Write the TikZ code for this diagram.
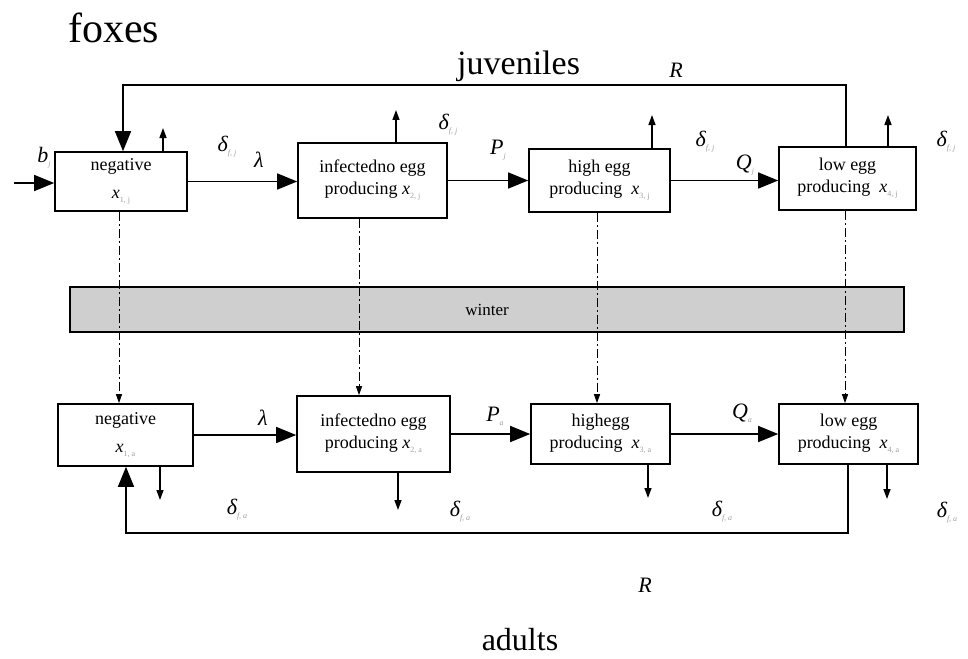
\documentclass[tikz,border=0pt]{standalone}
\usepackage{fontspec}
\setmainfont{Liberation Serif}
\usetikzlibrary{arrows.meta}
\definecolor{subgray}{gray}{0.62}
\definecolor{wintergray}{gray}{0.81}
\newcommand{\sbt}[1]{\raisebox{-4pt}{\color{subgray}\fontsize{8}{8}\selectfont #1}}
\newcommand{\dlab}[1]{\textit{δ}\sbt{f, #1}}
\begin{document}
\begin{tikzpicture}[x=1pt,y=-1pt,
  box/.style={draw, line width=1.6pt, inner sep=0pt, align=center, font=\fontsize{18}{22}\selectfont},
  flowarrow/.style={line width=1.4pt, -{Triangle[length=20pt,width=16pt]}},
  deatharrow/.style={line width=1.4pt, -{Triangle[length=10pt,width=7pt]}},
  ddarrow/.style={line width=1pt, dash pattern=on 9pt off 3pt on 2pt off 3pt, -{Triangle[length=9pt,width=6pt]}},
  lab/.style={font=\fontsize{22}{22}\selectfont\itshape, inner sep=0pt},
  title/.style={inner sep=0pt}]
\useasboundingbox (0,0) rectangle (968,658);

% titles
\node[title, anchor=base west, font=\fontsize{42}{42}\selectfont] (foxes) at (68,43) {foxes};
\node[title, anchor=base west, font=\fontsize{34}{34}\selectfont] (juv) at (457,75) {juveniles};
\node[title, anchor=base, font=\fontsize{32}{32}\selectfont] (adults) at (520,650) {adults};

% juvenile boxes
\node[box, minimum width=132pt, minimum height=59pt] (tj1) at (121,181.5) {negative\\[6pt]\textit{x}\sbt{1, j}};
\node[box, minimum width=149pt, minimum height=75pt] (tj2) at (372.5,180.5) {infectedno egg\\producing \textit{x}\sbt{2, j}};
\node[box, minimum width=141pt, minimum height=63pt] (tj3) at (599.5,180.5) {high egg\\producing \ \textit{x}\sbt{3, j}};
\node[box, minimum width=137pt, minimum height=63pt] (tj4) at (847.5,178.5) {low egg\\producing \ \textit{x}\sbt{4, j}};

% adult boxes
\node[box, minimum width=135pt, minimum height=62pt] (ta1) at (125.5,435) {negative\\[6pt]\textit{x}\sbt{1, a}};
\node[box, minimum width=153pt, minimum height=76pt] (ta2) at (373.5,434) {infectedno egg\\producing \textit{x}\sbt{2, a}};
\node[box, minimum width=139pt, minimum height=60pt] (ta3) at (600.5,434) {highegg\\producing \ \textit{x}\sbt{3, a}};
\node[box, minimum width=139pt, minimum height=60pt] (ta4) at (848.5,434) {low egg\\producing \ \textit{x}\sbt{4, a}};

% winter bar
\node[draw, line width=1.6pt, fill=wintergray, minimum width=834pt, minimum height=45pt, inner sep=0pt,
      font=\fontsize{17}{17}\selectfont] (winter) at (487,309.5) {winter};

% coordinates
\coordinate (bin) at (14,183);
\coordinate (jl1) at (846,85);
\coordinate (jl2) at (123,85);
\coordinate (al1) at (848,533);
\coordinate (al2) at (126,533);
\coordinate (du1) at (163,128);
\coordinate (du2) at (396,110);
\coordinate (du3) at (652,115);
\coordinate (du4) at (888,115);
\coordinate (dd1) at (160,500);
\coordinate (dd2) at (398,510);
\coordinate (dd3) at (648,498);
\coordinate (dd4) at (887,499);
\coordinate (v1) at (119,0);
\coordinate (v2) at (359,0);
\coordinate (v3) at (597,0);
\coordinate (v4) at (845,0);

% flows juveniles
\draw[flowarrow] (bin) -- (bin -| tj1.west);
\draw[flowarrow] (tj1.east) -- (tj1.east -| tj2.west);
\draw[flowarrow] (tj2.east) -- (tj2.east -| tj3.west);
\draw[flowarrow] (tj3.east) -- (tj3.east -| tj4.west);
\draw[flowarrow] (tj4.north -| jl1) -- (jl1) -- (jl2) -- (jl2 |- tj1.north);

% flows adults
\draw[flowarrow] (ta1.east) -- (ta1.east -| ta2.west);
\draw[flowarrow] (ta2.east) -- (ta2.east -| ta3.west);
\draw[flowarrow] (ta3.east) -- (ta3.east -| ta4.west);
\draw[flowarrow] (ta4.south -| al1) -- (al1) -- (al2) -- (al2 |- ta1.south);

% deaths
\draw[deatharrow] (tj1.north -| du1) -- (du1);
\draw[deatharrow] (tj2.north -| du2) -- (du2);
\draw[deatharrow] (tj3.north -| du3) -- (du3);
\draw[deatharrow] (tj4.north -| du4) -- (du4);
\draw[deatharrow] (ta1.south -| dd1) -- (dd1);
\draw[deatharrow] (ta2.south -| dd2) -- (dd2);
\draw[deatharrow] (ta3.south -| dd3) -- (dd3);
\draw[deatharrow] (ta4.south -| dd4) -- (dd4);

% winter transitions
\draw[ddarrow] (tj1.south -| v1) -- (ta1.north -| v1);
\draw[ddarrow] (tj2.south -| v2) -- (ta2.north -| v2);
\draw[ddarrow] (tj3.south -| v3) -- (ta3.north -| v3);
\draw[ddarrow] (tj4.south -| v4) -- (ta4.north -| v4);

% labels
\node[lab] (lb) at (44,158) {b\sbt{j}};
\node[lab] (lr1) at (676,70) {R};
\node[lab] (lr2) at (645,585) {R};
\node[lab] (ll1) at (259,160) {λ};
\node[lab] (ll2) at (263,418) {λ};
\node[lab] (lp1) at (498,150) {P\sbt{j}};
\node[lab] (lp2) at (495,416) {P\sbt{a}};
\node[lab] (lq1) at (745,165) {Q\sbt{j}};
\node[lab] (lq2) at (742,413) {Q\sbt{a}};
\node[lab] (dj1) at (227,147) {\dlab{j}};
\node[lab] (dj2) at (448,125) {\dlab{j}};
\node[lab] (dj3) at (705,142) {\dlab{j}};
\node[lab] (dj4) at (946,142) {\dlab{j}};
\node[lab] (da1) at (237,510) {\dlab{a}};
\node[lab] (da2) at (460,512) {\dlab{a}};
\node[lab] (da3) at (722,512) {\dlab{a}};
\node[lab] (da4) at (947,513) {\dlab{a}};
\end{tikzpicture}
\end{document}
